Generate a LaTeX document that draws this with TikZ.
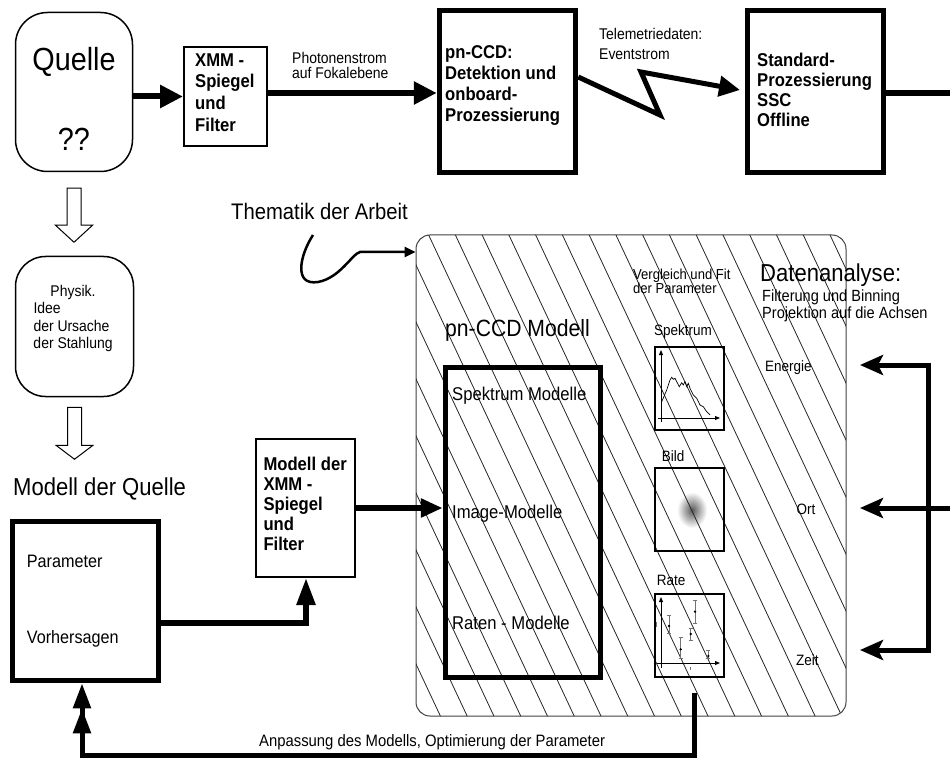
\documentclass[tikz,border=0pt]{standalone}
\usepackage{fontspec}
\setmainfont{Liberation Sans}[FakeStretch=0.9]
\usetikzlibrary{arrows.meta,calc}
\newcommand\fsz[2]{\fontsize{#1}{#2}\selectfont}
\begin{document}
\begin{tikzpicture}[x=1pt,y=-1pt,
  every node/.style={inner sep=0pt},
  rbox/.style={draw, line width=1.5pt},
  tbox/.style={draw, line width=2pt},
  kbox/.style={draw, line width=5.5pt},
  pbox/.style={draw, line width=2pt, minimum width=69pt, minimum height=83pt},
  txt/.style={anchor=base west},
  mtxt/.style={anchor=north west, align=left},
  bigarr/.style={line width=6pt, -{Triangle[length=23pt,width=22pt]}},
  sarr/.style={line width=5pt, line join=miter},
  hatchline/.style={line width=0.8pt, black!85},
  ebar/.style={line width=1pt, black!55},
  plotax/.style={line width=0.9pt, -{Triangle[length=5pt,width=4pt]}}
]
\useasboundingbox (0,0) rectangle (950,759);

% ---------- top row ----------
\node[rbox, minimum width=117pt, minimum height=159pt, rounded corners=32pt] (quelle) at (74,92) {};
\node[font=\fsz{32}{36}] (quelletxt) at (74,62) {Quelle};
\node[font=\fsz{32}{36}] (qq) at (74,139) {??};

\node[tbox, minimum width=83pt, minimum height=99pt] (xmm) at (225.5,96.5) {};
\node[mtxt, font=\bfseries\fsz{18.5}{21.7}] (xmmtxt) at (195,53.3) {XMM -\\Spiegel\\und\\Filter};

\node[kbox, minimum width=136pt, minimum height=162pt] (pnccd) at (507.5,91.5) {};
\node[mtxt, font=\bfseries\fsz{18.5}{21}] (pnccdtxt) at (445,45) {pn-CCD:\\Detektion und\\onboard-\\Prozessierung};

\node[kbox, minimum width=136pt, minimum height=162pt] (std) at (815.5,91.5) {};
\node[mtxt, font=\bfseries\fsz{18.5}{20}] (stdtxt) at (757,53.3) {Standard-\\Prozessierung\\SSC\\Offline};

\node[mtxt, font=\fsz{15.5}{15}] (phot) at (292,51.7) {Photonenstrom\\auf Fokalebene};
\node[mtxt, font=\fsz{15.5}{20}] (tele) at (599,28.3) {Telemetriedaten:\\Eventstrom};

\coordinate (ph) at (270,93);
\coordinate (rout) at (950,93);
\coordinate (z0) at (578,77);
\coordinate (z1) at (660,115);
\coordinate (z2) at (641,72);
\coordinate (z3) at (740,90);

\draw[bigarr] (quelle.east |- xmm.west) -- (xmm.west);
\draw[bigarr] (xmm.east |- ph) -- (pnccd.west |- ph);
\draw[sarr, -{Triangle[length=21pt,width=20pt]}] (pnccd.east |- z0) -- (z1) -- (z2) -- (z3);
\draw[line width=6pt] (std.east |- rout) -- (rout);

% ---------- left column ----------
\draw[line width=1pt, fill=white] ($(quelle.south)+(-7,16)$) -- ++(0,37) -- ++(-11.5,0) -- ++(18.5,17) -- ++(18.5,-17) -- ++(-11.5,0) -- ++(0,-37) -- cycle;

\node[rbox, minimum width=118pt, minimum height=140pt, rounded corners=30pt] (physik) at (74.5,326.5) {};
\node[mtxt, font=\fsz{15.5}{17.3}] (physiktxt) at (33.3,285) {\hspace*{17pt}Physik.\\Idee\\der Ursache\\der Stahlung};

\draw[line width=1pt, fill=white] ($(physik.south)+(-7,10)$) -- ++(0,38) -- ++(-11.5,0) -- ++(18.5,14) -- ++(18.5,-14) -- ++(-11.5,0) -- ++(0,-38) -- cycle;

\node[txt, font=\fsz{24.5}{28}] (mdq) at (13,495) {Modell der Quelle};

\node[kbox, minimum width=146pt, minimum height=159pt] (param) at (85.5,601) {};
\node[txt, font=\fsz{18}{22}] (partxt) at (26.7,567.3) {Parameter};
\node[txt, font=\fsz{18}{22}] (vortxt) at (26.7,643.3) {Vorhersagen};

\node[tbox, minimum width=99pt, minimum height=138pt] (mxmm) at (305.5,508) {};
\node[mtxt, font=\bfseries\fsz{18.5}{20}] (mxmmtxt) at (263.3,456.7) {Modell der\\XMM -\\Spiegel\\und\\Filter};

\node[txt, font=\fsz{22.5}{26}] (thema) at (231,220) {Thematik der Arbeit};

% ---------- hatched pn-CCD model region ----------
\node[draw=black!75, line width=1pt, minimum width=430pt, minimum height=481pt, rounded corners=14pt] (pnmodel) at (631,475.5) {};

\shade[inner color=black!65, outer color=white] (692,510) ellipse [x radius=15pt, y radius=18pt];

\begin{scope}
  \clip[rounded corners=14pt] (416,235) rectangle (846,716);
  \foreach \k in {-3,...,26} {
    \draw[hatchline] (380,{2.13*380-1419+57*\k}) -- (880,{2.13*880-1419+57*\k});
  }
\end{scope}

\coordinate (cs) at (313,235);
\coordinate (ct) at (360,252);
\draw[line width=2.5pt, -{Triangle[length=11pt,width=10pt]}] (cs) .. controls (300,255) and (293,286) .. (318,282) .. controls (340,278) and (352,254) .. (ct) -- (pnmodel.west |- ct);

\node[kbox, minimum width=155pt, minimum height=310pt] (models) at (523,522.5) {};
\node[txt, font=\fsz{23.5}{26}] (pnmtxt) at (445,336.7) {pn-CCD Modell};
\node[txt, font=\fsz{18.5}{22}] (spm) at (452,400) {Spektrum Modelle};
\node[txt, font=\fsz{18.5}{22}] (imm) at (452,518.3) {Image-Modelle};
\node[txt, font=\fsz{18.5}{22}] (ram) at (452,629) {Raten - Modelle};

\node[mtxt, font=\fsz{14.5}{14}] (vgl) at (633,269) {Vergleich und Fit\\der Parameter};
\node[txt, font=\fsz{24.5}{28}] (dana) at (760,282) {Datenanalyse:};
\node[mtxt, font=\fsz{16.2}{14.5}] (filt) at (762,290) {Filterung und Binning\\Projektion auf die Achsen};

\node[txt, font=\fsz{15}{18}] (spklbl) at (654,335) {Spektrum};
\node[txt, font=\fsz{15}{18}] (bildlbl) at (661.7,461.7) {Bild};
\node[txt, font=\fsz{15}{18}] (ratelbl) at (656.7,585) {Rate};
\node[txt, font=\fsz{15}{18}] (energie) at (765,371.7) {Energie};
\node[txt, font=\fsz{15}{18}] (ort) at (796.5,514) {Ort};
\node[txt, font=\fsz{15}{18}] (zeit) at (796,665) {Zeit};

\node[pbox] (spbox) at (689.5,388.5) {};
\node[pbox] (bildbox) at (689.5,509.5) {};
\node[pbox] (ratebox) at (689.5,635.5) {};

% spectrum plot
\draw[plotax] (661,422) -- (661,350);
\draw[plotax] (658,418) -- (720,418);
\draw[line width=0.7pt] (661.7,401.7) -- (666.7,390) -- (670,380) -- (671.7,377.3) -- (673.3,379.3) -- (675,378.3) -- (676.7,381.7) -- (679.3,386.7) -- (681.7,382.7) -- (683.3,385) -- (685,381.7) -- (686.7,386.7) -- (688.3,383.3) -- (690,388.3) -- (693.3,395) -- (696.7,398.3) -- (700,405) -- (703.3,406.7) -- (706.7,411.7) -- (710,415);

% rate plot
\draw[plotax] (661,668) -- (661,597);
\draw[plotax] (657,663) -- (720,663);
\foreach \x/\a/\b/\p in {669/615/633/626, 680.7/637.3/658.3/649.3, 690.7/628.3/640/634, 695/600.7/623.3/611.7, 708.3/650/658.3/656} {
  \draw[ebar] (\x,\a) -- (\x,\b);
  \draw[ebar] (\x-2,\a) -- (\x+2,\a);
  \draw[ebar] (\x-2,\b) -- (\x+2,\b);
  \fill (\x,\p) circle (1.3pt);
}
\draw[ebar] (656.7,621.7) -- (656.7,626.7);
\draw[ebar] (690,666.7) -- (690,670);

% ---------- connectors ----------
\coordinate (pm) at (306,623);
\draw[sarr, line width=5.5pt, -{Triangle[length=27pt,width=18pt]}] (param.east |- pm) -- (pm) -- (mxmm.south -| pm);
\draw[line width=5.5pt, -{Triangle[length=22pt,width=18pt]}] (mxmm.east) -- (mxmm.east -| models.west);

\coordinate (etip) at (860,365);
\coordinate (vtop) at (928,365);
\coordinate (vbot) at (928,650);
\coordinate (ztip) at (860,650);
\coordinate (ortin) at (950,508);
\coordinate (otip) at (860,508);
\draw[sarr, {Stealth[length=23pt,width=20pt,inset=5pt]}-{Stealth[length=23pt,width=20pt,inset=5pt]}] (etip) -- (vtop) -- (vbot) -- (ztip);
\draw[sarr, -{Stealth[length=23pt,width=20pt,inset=5pt]}] (ortin) -- (otip);

\coordinate (fbs) at (694,693);
\coordinate (fb1) at (694,755);
\coordinate (fb2) at (82,755);
\draw[sarr, -{Triangle[length=25pt,width=17pt] Triangle[length=25pt,width=17pt]}] (fbs) -- (fb1) -- (fb2) -- (fb2 |- param.south);
\node[txt, font=\fsz{16.5}{18}] (anp) at (259,746) {Anpassung des Modells, Optimierung der Parameter};

\end{tikzpicture}
\end{document}
